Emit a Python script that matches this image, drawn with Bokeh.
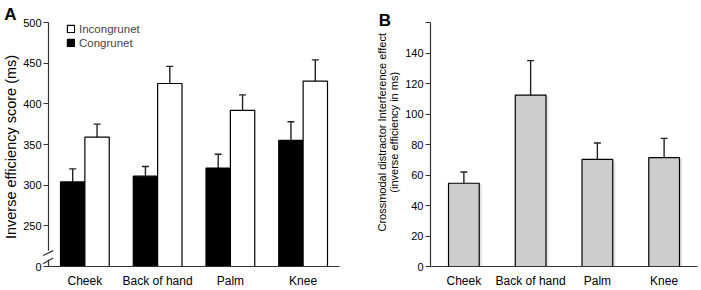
import math
from bokeh.plotting import figure
from bokeh.models import (Range1d, FixedTicker, Whisker, TeeHead, ColumnDataSource,
                          Legend, LegendItem)
from bokeh.core.properties import value
from bokeh.layouts import row
from bokeh.embed import file_html
from bokeh.resources import INLINE

# ---------------- data ----------------
sites = ["Cheek", "Back of hand", "Palm", "Knee"]
congruent = [304, 311, 321, 355]
congruent_err_top = [320, 323, 338, 378]
incongruent = [359, 425, 392, 428]
incongruent_err_top = [375, 446, 411, 454]
interference = [54.6, 112.4, 70.2, 71.4]
interference_err_top = [62, 135, 81, 84]
a_ticks = [200, 250, 300, 350, 400, 450, 500]
a_tick_labels = ["0", "250", "300", "350", "400", "450", "500"]
b_ticks = [0, 20, 40, 60, 80, 100, 120, 140, 160]
b_tick_labels = ["0", "20", "40", "60", "80", "100", "120", "140", ""]
a_ylabel = "Inverse efficiency score (ms)"
b_ylabel = ["Crossmodal distractor Interference effect", "(inverse efficiency in ms)"]

FONT = "Liberation Sans"
AXC = "#333333"


def style_axes(p, yticks, ylabels):
    p.outline_line_color = None
    p.xgrid.grid_line_color = None
    p.ygrid.grid_line_color = None
    p.background_fill_color = "white"
    p.border_fill_color = "white"
    xa = p.xaxis[0]
    xa.ticker = FixedTicker(ticks=list(range(len(sites))))
    xa.major_label_overrides = {i: s for i, s in enumerate(sites)}
    xa.major_tick_out = 0
    xa.major_tick_in = 0
    xa.minor_tick_out = 0
    xa.minor_tick_in = 0
    xa.axis_line_color = AXC
    xa.axis_line_width = 1.2
    xa.major_label_standoff = 7
    xa.major_label_text_font = FONT
    xa.major_label_text_font_size = "12px"
    xa.major_label_text_color = "black"
    ya = p.yaxis[0]
    ya.ticker = FixedTicker(ticks=yticks)
    ya.major_label_overrides = {t: l for t, l in zip(yticks, ylabels)}
    ya.major_tick_out = 5
    ya.major_tick_in = 0
    ya.minor_tick_out = 0
    ya.minor_tick_in = 0
    ya.axis_line_color = AXC
    ya.axis_line_width = 1.2
    ya.major_tick_line_color = AXC
    ya.major_label_standoff = 2
    ya.major_label_text_font = FONT
    ya.major_label_text_font_size = "11px"
    ya.major_label_text_color = "black"


def add_text(p, x, y, txt, size, x_offset=0, angle=0.0, bold=False):
    p.text(x=[x], y=[y], text=[txt], x_offset=x_offset, angle=angle,
           text_font=value(FONT), text_font_size=size,
           text_font_style="bold" if bold else "normal", text_color="black",
           text_align="center", text_baseline="middle", level="overlay")


# ---------------- panel A ----------------
n = len(sites)
xs = list(range(n))
bw = 0.335
pa = figure(width=350, height=290, x_range=Range1d(-0.5, n - 0.5), y_range=Range1d(200, 500),
            output_backend="svg", toolbar_location=None,
            min_border_left=48, min_border_right=11, min_border_top=22, min_border_bottom=21)
style_axes(pa, a_ticks, a_tick_labels)

src_c = ColumnDataSource(dict(x=[x - bw / 2 for x in xs], top=congruent, err=congruent_err_top))
src_i = ColumnDataSource(dict(x=[x + bw / 2 for x in xs], top=incongruent, err=incongruent_err_top))
r_c = pa.vbar(x="x", top="top", bottom=200, width=bw, source=src_c,
              fill_color="black", line_color="black", line_width=1.2)
r_i = pa.vbar(x="x", top="top", bottom=200, width=bw, source=src_i,
              fill_color="white", line_color="black", line_width=1.2)
for s in (src_c, src_i):
    pa.add_layout(Whisker(source=s, base="x", lower="top", upper="err",
                          upper_head=TeeHead(size=7, line_color="#222222", line_width=1.4),
                          lower_head=None, line_color="#222222", line_width=1.4))

# axis break
pa.quad(left=-0.5 - 0.05, right=-0.5 + 0.05, bottom=208.5, top=219.5,
        fill_color="white", line_color=None, level="overlay")
pa.segment(x0=[-0.5 - 0.075, -0.5 - 0.075], y0=[213.5, 203.5],
           x1=[-0.5 + 0.065, -0.5 + 0.065], y1=[219.5, 210.5],
           line_color=AXC, line_width=1.2, level="overlay")

legend = Legend(items=[LegendItem(label="Incongrunet", renderers=[r_i]),
                       LegendItem(label="Congrunet", renderers=[r_c])],
                location=(18, 217), glyph_width=9, glyph_height=9, label_height=13,
                spacing=1, padding=0, margin=0, label_standoff=4,
                border_line_color=None, background_fill_alpha=0,
                label_text_font=FONT, label_text_font_size="11.5px")
pa.add_layout(legend)

add_text(pa, -0.5, 509.7, "A", "17px", x_offset=-38, bold=True)
add_text(pa, -0.5, 347, a_ylabel, "14.5px", x_offset=-38, angle=math.pi / 2)

# ---------------- panel B ----------------
pb = figure(width=351, height=290, x_range=Range1d(-0.5, n - 0.5), y_range=Range1d(0, 160),
            output_backend="svg", toolbar_location=None,
            min_border_left=80, min_border_right=4, min_border_top=15, min_border_bottom=22)
style_axes(pb, b_ticks, b_tick_labels)
bwb = 0.46
src_b = ColumnDataSource(dict(x=xs, top=interference, err=interference_err_top))
src_sh = ColumnDataSource(dict(x=[x + 0.04 for x in xs], top=[v - 0.8 for v in interference]))
pb.vbar(x="x", top="top", bottom=0, width=bwb, source=src_sh,
        fill_color="#e4e4e4", line_color=None)
pb.vbar(x="x", top="top", bottom=0, width=bwb, source=src_b,
        fill_color="#cdcdcd", line_color="black", line_width=1.2)
pb.add_layout(Whisker(source=src_b, base="x", lower="top", upper="err",
                      upper_head=TeeHead(size=7, line_color="#222222", line_width=1.4),
                      lower_head=None, line_color="#222222", line_width=1.4))

add_text(pb, -0.5, 161.6, "B", "17px", x_offset=-45.5, bold=True)
add_text(pb, -0.5, 88, b_ylabel[0], "11px", x_offset=-48.5, angle=math.pi / 2)
add_text(pb, -0.5, 88, b_ylabel[1], "11px", x_offset=-37, angle=math.pi / 2)

layout = row(pa, pb)
open("out.html", "w").write(file_html(layout, INLINE))
